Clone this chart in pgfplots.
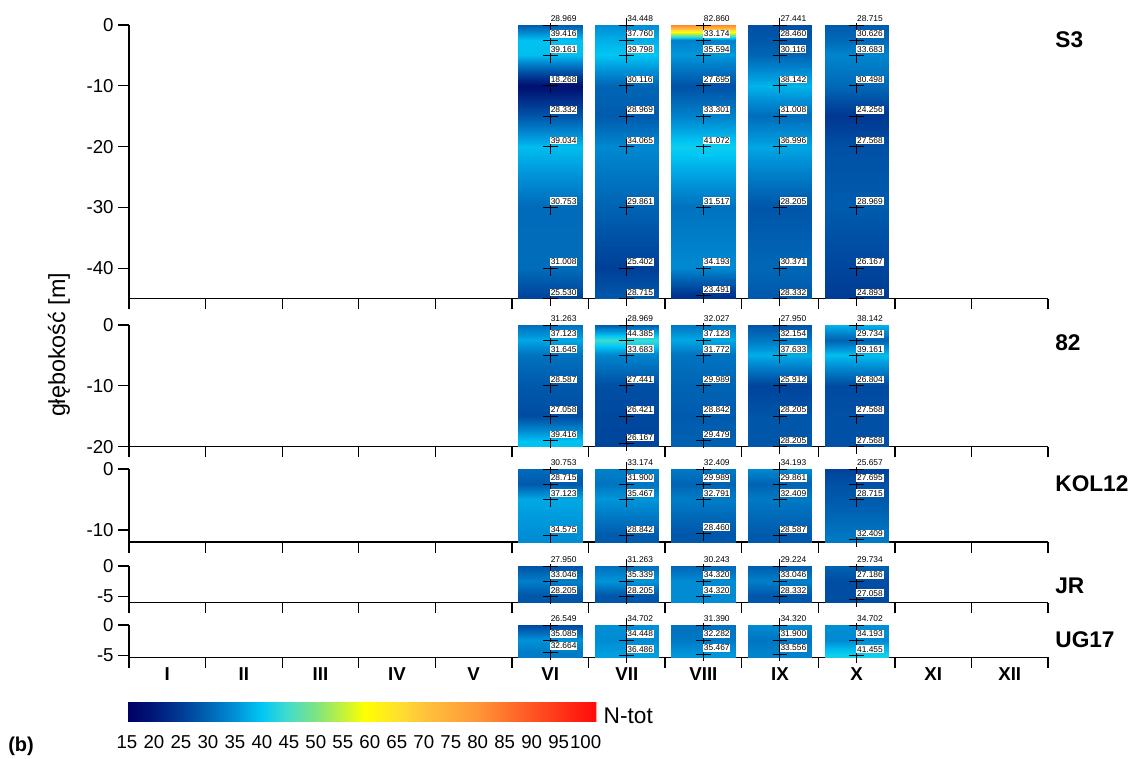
\documentclass[border=0pt]{standalone}
\usepackage{fontspec}
\setmainfont{Liberation Sans}
\usepackage{pgfplots}
\pgfplotsset{compat=1.18}

\newcommand\tickfont{\fontsize{14}{16}\selectfont}
\newcommand\lblfont{\fontsize{6.3}{7}\selectfont}

\pgfplotsset{
  colormap={ntot}{rgb255(15)=(0,0,100) rgb255(20)=(0,25,120) rgb255(25)=(0,60,150)
    rgb255(30)=(0,100,180) rgb255(35)=(0,145,215) rgb255(40)=(0,200,245)
    rgb255(45)=(70,220,200) rgb255(50)=(125,228,130) rgb255(55)=(195,242,60)
    rgb255(59)=(255,255,0) rgb255(65)=(255,225,45) rgb255(70)=(255,195,60)
    rgb255(80)=(255,150,55) rgb255(90)=(255,85,35) rgb255(102)=(255,10,10)},
  panel/.style={scale only axis, width=689.25pt, anchor=south west,
    xmin=0.5, xmax=12.5, ymax=0,
    axis x line*=bottom, axis y line*=left,
    axis line style={-, line width=1pt},
    tick align=outside, major tick length=8pt,
    tick style={line width=1pt, black},
    xtick={0.5,1.5,...,12.5}, xticklabels={},
    tick label style={font=\tickfont},
    /pgf/number format/assume math mode=true,
    colormap name=ntot, point meta min=15, point meta max=102,
    clip=false},
  heat/.style={surf, shader=interp, mesh/cols=2, point meta=explicit, forget plot},
  lab/.style={only marks, mark=+, mark size=5.5pt,
    mark options={black, line width=0.7pt},
    point meta=explicit symbolic, nodes near coords,
    nodes near coords style={anchor=south west, font=\lblfont, fill=white,
      inner sep=0.6pt, xshift=-0.5pt, yshift=1.5pt}},
}

% #1 month, #2 ymin of panel, #3 list depth/value
\newcommand{\heatcol}[3]{%
  \pgfmathsetmacro\xL{#1-0.418}%
  \pgfmathsetmacro\xR{#1+0.418}%
  \gdef\surflist{}\gdef\marklist{}%
  \foreach \pd/\pv in {#3}{%
    \xdef\surflist{\surflist (\xL,\pd) [\pv] (\xR,\pd) [\pv]}%
    \xdef\marklist{\marklist (#1,\pd) [\pv]}%
    \xdef\lastd{\pd}\xdef\lastv{\pv}%
  }%
  \ifdim\lastd pt>#2pt\relax
    \xdef\surflist{\surflist (\xL,#2) [\lastv] (\xR,#2) [\lastv]}%
  \fi
  \edef\next{\noexpand\addplot[heat] coordinates {\surflist};
    \noexpand\addplot[lab] coordinates {\marklist};}%
  \next
}

\begin{document}
\begin{tikzpicture}
\useasboundingbox (0,0) rectangle (855pt,568.5pt);

% ---------- S3 ----------
\begin{axis}[panel, at={(96.75pt,344.55pt)}, height=205.2pt, ymin=-45,
  ytick={0,-10,-20,-30,-40}]
\heatcol{6}{-45}{0/28.969, -2.5/39.416, -5/39.161, -10/18.268, -15/28.332, -20/39.034, -30/30.753, -40/31.008, -45/25.530}
\heatcol{7}{-45}{0/34.448, -2.5/37.760, -5/39.798, -10/30.116, -15/28.969, -20/34.065, -30/29.861, -40/25.402, -45/28.715}
\heatcol{8}{-45}{0/82.860, -2.5/33.174, -5/35.594, -10/27.695, -15/33.301, -20/41.072, -30/31.517, -40/34.193, -44.5/23.491}
\heatcol{9}{-45}{0/27.441, -2.5/28.460, -5/30.116, -10/38.142, -15/31.008, -20/36.996, -30/28.205, -40/30.371, -45/28.332}
\heatcol{10}{-45}{0/28.715, -2.5/30.626, -5/33.683, -10/30.498, -15/24.256, -20/27.568, -30/28.969, -40/26.167, -45/24.893}
\end{axis}

% ---------- 82 ----------
\begin{axis}[panel, at={(96.75pt,233.55pt)}, height=91.2pt, ymin=-20,
  ytick={0,-10,-20}]
\heatcol{6}{-20}{0/31.263, -2.5/37.123, -5/31.645, -10/28.587, -15/27.058, -19/39.416}
\heatcol{7}{-20}{0/28.969, -2.5/44.385, -5/33.683, -10/27.441, -15/26.421, -19.5/26.167}
\heatcol{8}{-20}{0/32.027, -2.5/37.123, -5/31.772, -10/29.989, -15/28.842, -19/29.479}
\heatcol{9}{-20}{0/27.950, -2.5/32.154, -5/37.633, -10/25.912, -15/28.205, -20/28.205}
\heatcol{10}{-20}{0/38.142, -2.5/29.734, -5/39.161, -10/26.804, -15/27.568, -20/27.568}
\end{axis}

% ---------- KOL12 ----------
\begin{axis}[panel, at={(96.75pt,162pt)}, height=54.75pt, ymin=-12,
  ytick={0,-10}]
\heatcol{6}{-12}{0/30.753, -2.5/28.715, -5/37.123, -11/34.575}
\heatcol{7}{-12}{0/33.174, -2.5/31.900, -5/35.467, -11/28.842}
\heatcol{8}{-12}{0/32.409, -2.5/29.989, -5/32.791, -10.6/28.460}
\heatcol{9}{-12}{0/34.193, -2.5/29.861, -5/32.409, -11/28.587}
\heatcol{10}{-12}{0/25.657, -2.5/27.695, -5/28.715, -11.6/32.409}
\end{axis}

% ---------- JR ----------
\begin{axis}[panel, at={(96.75pt,116.625pt)}, height=27.375pt, ymin=-6,
  ytick={0,-5}]
\heatcol{6}{-6}{0/27.950, -2.5/33.046, -5/28.205}
\heatcol{7}{-6}{0/31.263, -2.5/35.339, -5/28.205}
\heatcol{8}{-6}{0/30.243, -2.5/34.320, -5/34.320}
\heatcol{9}{-6}{0/29.224, -2.5/33.046, -5/28.332}
\heatcol{10}{-6}{0/29.734, -2.5/27.186, -5.5/27.058}
\end{axis}

% ---------- UG17 ----------
\begin{axis}[panel, at={(96.75pt,75.6pt)}, height=24.15pt, ymin=-5.3,
  ytick={0,-5},
  extra x ticks={1,2,3,4,5,6,7,8,9,10,11,12},
  extra x tick labels={I,II,III,IV,V,VI,VII,VIII,IX,X,XI,XII},
  extra x tick style={major tick length=0pt,
    tick label style={font=\bfseries\fontsize{14}{16}\selectfont, yshift=-4pt}},
  colorbar horizontal,
  colorbar style={scale only axis, width=352.1pt, height=23.25pt,
    at={(parent axis.south west)}, anchor=north west,
    xshift=-1.5pt, yshift=-16.3pt,
    xtick={15,20,...,100}, major tick length=0pt, xtick style={draw=none},
    xticklabel style={font=\tickfont, yshift=-7pt},
    /pgf/number format/assume math mode=true,
    axis line style={draw=none}}]
\heatcol{6}{-5.3}{0/26.549, -2.5/35.085, -4.5/32.664}
\heatcol{7}{-5.3}{0/34.702, -2.5/34.448, -5/36.486}
\heatcol{8}{-5.3}{0/31.390, -2.5/32.282, -4.8/35.467}
\heatcol{9}{-5.3}{0/34.320, -2.5/31.900, -4.8/33.556}
\heatcol{10}{-5.3}{0/34.702, -2.5/34.193, -5/41.455}
\end{axis}

\begin{scope}[every node/.style={anchor=west, font=\bfseries\fontsize{17}{18}\selectfont}]
\node at (788pt,538.5pt) {S3};
\node at (788pt,311.25pt) {82};
\node at (788pt,205.5pt) {KOL12};
\node at (788pt,129pt) {JR};
\node at (788pt,88.5pt) {UG17};
\end{scope}
\node[rotate=90, font=\fontsize{17.5}{18}\selectfont] at (44.25pt,309.75pt) {głębokość [m]};
\node[anchor=west, inner sep=0pt, font=\fontsize{17}{18}\selectfont] at (452.6pt,31.65pt) {N-tot};
\node[anchor=west, inner sep=0pt, font=\bfseries\fontsize{15}{16}\selectfont] at (6pt,9pt) {(b)};
\end{tikzpicture}
\end{document}
